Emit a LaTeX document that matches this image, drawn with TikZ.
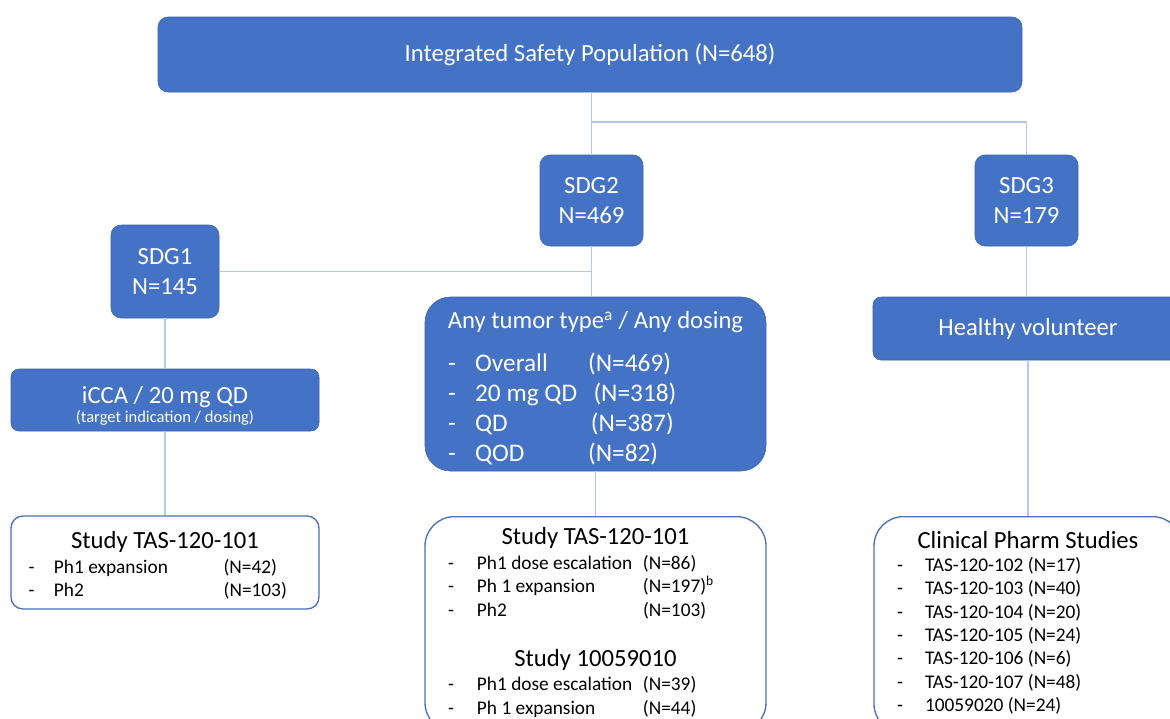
\documentclass[tikz,border=0pt]{standalone}
\usepackage{fontspec}
\setmainfont{Carlito}
\usetikzlibrary{positioning,calc}
\definecolor{fillblue}{HTML}{4472C4}
\definecolor{edgeblue}{HTML}{3A64AE}
\definecolor{frameblue}{HTML}{4A6FB3}
\definecolor{linkblue}{HTML}{B4C7E7}
\newcommand{\mainsize}{\fontsize{18.5}{23}\selectfont}
\newcommand{\listsize}{\fontsize{19}{22.5}\selectfont}
\newcommand{\itemsize}{\fontsize{14.5}{17.5}\selectfont}
\newcommand{\notesize}{\fontsize{12.4}{14}\selectfont}
\tikzset{
  groupbox/.style={
    rounded corners=7.5pt,draw=edgeblue,fill=fillblue,
    line width=.4pt,text=white,align=center,font=\mainsize,inner sep=0pt
  },
  studybox/.style={
    rounded corners=9pt,draw=frameblue,fill=white,
    line width=1pt,align=center,font=\mainsize,inner sep=0pt
  },
  link/.style={draw=linkblue,line width=.8pt}
}
\begin{document}
\begin{tikzpicture}[x=0.75pt,y=-0.75pt]
\useasboundingbox (0,0) rectangle (1170,718);
\clip (0,0) rectangle (1170,718);

\node[groupbox,minimum width=648pt,minimum height=56.25pt] (isp) at (590,54.5)
{Integrated Safety Population (N=648)};

\node[groupbox,minimum width=77.25pt,minimum height=68.25pt] (sdgtwo) at (591.5,200.5)
{SDG2\\N=469};
\node[groupbox,minimum width=77.25pt,minimum height=68.25pt] (sdgthree) at (1026.5,200.5)
{SDG3\\N=179};
\node[groupbox,minimum width=81pt,minimum height=69.75pt] (sdgone) at (165,271.5)
{SDG1\\N=145};

\node[groupbox,rounded corners=6pt,minimum width=231pt,minimum height=46.5pt] (icca) at (165,400)
{\rule{0pt}{22pt}iCCA / 20 mg QD\\[-9pt]{\notesize(target indication / dosing)}};

\node[groupbox,rounded corners=19pt,minimum width=255.75pt,minimum height=130.5pt] (anytumor) at (595.5,384)
{\rule{0pt}{23.25pt}Any tumor type\textsuperscript{a} / Any dosing\\[9.25pt]
\listsize
\begin{tabular}[t]{@{}p{20.25pt}@{}p{84.75pt}@{}p{116pt}@{}}
- & Overall & (N=469)\\
- & 20 mg QD & \hspace{4pt}(N=318)\\
- & QD & \hspace{2pt}(N=387)\\
- & QOD & (N=82)
\end{tabular}};

\node[groupbox,rounded corners=6pt,minimum width=232.5pt,minimum height=47.25pt] (healthy) at (1028,328.5)
{Healthy volunteer};

\node[studybox,minimum width=231pt,minimum height=69.75pt] (studyone) at (165,562.5)
{\rule{0pt}{20pt}Study TAS-120-101\\[-4.25pt]
\itemsize
\begin{tabular}[t]{@{}p{19pt}@{}p{127.25pt}@{}p{58.25pt}@{}}
- & Ph1 expansion & (N=42)\\
- & Ph2 & (N=103)
\end{tabular}};

\node[studybox,rounded corners=22pt,minimum width=255.75pt,inner ysep=8pt,anchor=north] (studytwo) at (595.5,516)
{Study TAS-120-101\\[-4.25pt]
{\itemsize
\begin{tabular}[t]{@{}p{21.75pt}@{}p{124.5pt}@{}p{75pt}@{}}
- & Ph1 dose escalation & (N=86)\\
- & Ph 1 expansion & (N=197)\textsuperscript{b}\\
- & Ph2 & (N=103)
\end{tabular}}\\[18.5pt]
Study 10059010\\[-4.5pt]
\itemsize
\begin{tabular}[t]{@{}p{21.75pt}@{}p{124.5pt}@{}p{75pt}@{}}
- & Ph1 dose escalation & (N=39)\\
- & Ph 1 expansion & (N=44)
\end{tabular}};

\node[studybox,rounded corners=22pt,minimum width=231pt,inner ysep=11pt,anchor=north] (pharm) at (1028,516)
{Clinical Pharm Studies\\[-5.75pt]
\itemsize
\begin{tabular}[t]{@{}p{21pt}@{}p{175.5pt}@{}}
- & TAS-120-102 (N=17)\\
- & TAS-120-103 (N=40)\\
- & TAS-120-104 (N=20)\\
- & TAS-120-105 (N=24)\\
- & TAS-120-106 (N=6)\\
- & TAS-120-107 (N=48)\\
- & 10059020 (N=24)
\end{tabular}};

% connectors
\coordinate (split) at ($(isp.south -| sdgtwo.north)!0.476!(sdgtwo.north)$);
\draw[link] (isp.south -| sdgtwo.north) -- (sdgtwo.north);
\draw[link] (split) -| (sdgthree.north);
\draw[link] (sdgtwo.south) -- (sdgtwo.south |- anytumor.north);
\draw[link] (sdgone.east) -- (sdgone.east -| sdgtwo.south);
\draw[link] (sdgone.south) -- (icca.north);
\draw[link] (icca.south) -- (studyone.north);
\draw[link] (anytumor.south) -- (studytwo.north);
\draw[link] (sdgthree.south) -- (sdgthree.south |- healthy.north);
\draw[link] (healthy.south) -- (healthy.south |- pharm.north);
\end{tikzpicture}
\end{document}
